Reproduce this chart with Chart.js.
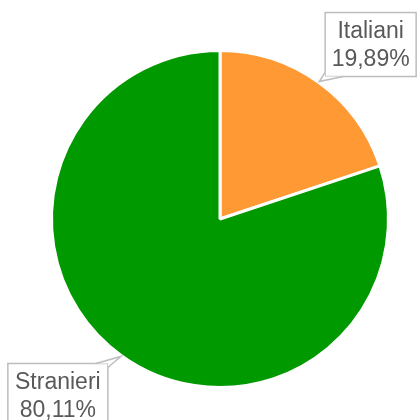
<!DOCTYPE html>
<html lang="it">
<head>
    <meta charset="UTF-8">
    <title>Italiani e stranieri</title>
    <script src="https://cdn.jsdelivr.net/npm/chart.js"></script>
    <style>
        html, body { margin: 0; padding: 0; background: #fff; }
        #wrap { width: 420px; height: 420px; }
    </style>
</head>
<body>
<div id="wrap"><canvas id="torta"></canvas></div>
<script>
    const categorie = ['Italiani', 'Stranieri'];
    const percentuali = [19.89, 80.11];
    const colori = ['#ff9933', '#009900'];

    // where each callout box sits, relative to the tip on the slice edge
    const fumetti = [
        { dx: 6, dy: -69, w: 91, h: 64, corner: 'bl' },
        { dx: -113, dy: 7, w: 100, h: 66, corner: 'tr' }
    ];

    const fmt = v => v.toFixed(2).replace('.', ',') + '%';

    // draws the speech-bubble labels pointing at each slice
    const calloutPlugin = {
        id: 'callout',
        afterDraw(chart) {
            const ctx = chart.ctx;
            const meta = chart.getDatasetMeta(0);
            meta.data.forEach((arc, i) => {
                const p = arc.getProps(['x', 'y', 'startAngle', 'endAngle', 'outerRadius'], true);
                const mid = (p.startAngle + p.endAngle) / 2;
                const tx = p.x + Math.cos(mid) * (p.outerRadius + 1);
                const ty = p.y + Math.sin(mid) * (p.outerRadius + 1);
                const f = fumetti[i];
                const bx = tx + f.dx, by = ty + f.dy;

                ctx.save();
                ctx.fillStyle = '#fff';
                ctx.strokeStyle = '#bdbdbd';
                ctx.lineWidth = 1.5;
                ctx.fillRect(bx, by, f.w, f.h);
                ctx.strokeRect(bx, by, f.w, f.h);

                let cx, cy, ax, ay, bx2, by2;
                if (f.corner === 'bl') {
                    cx = bx; cy = by + f.h;
                    ax = cx + 18; ay = cy;
                    bx2 = cx; by2 = cy - 4;
                } else {
                    cx = bx + f.w; cy = by;
                    ax = cx - 12; ay = cy;
                    bx2 = cx; by2 = cy + 4;
                }
                ctx.beginPath();
                ctx.moveTo(ax, ay);
                ctx.lineTo(tx, ty);
                ctx.lineTo(bx2, by2);
                ctx.lineTo(cx, cy);
                ctx.closePath();
                ctx.fill();
                ctx.beginPath();
                ctx.moveTo(ax, ay);
                ctx.lineTo(tx, ty);
                ctx.lineTo(bx2, by2);
                ctx.stroke();

                ctx.fillStyle = '#595959';
                ctx.font = '23px "Liberation Sans", Arial, sans-serif';
                ctx.textAlign = 'center';
                ctx.textBaseline = 'middle';
                const mx = bx + f.w / 2;
                ctx.fillText(categorie[i], mx, by + 19);
                ctx.fillText(fmt(percentuali[i]), mx, by + 47);
                ctx.restore();
            });
        }
    };

    new Chart(document.getElementById('torta'), {
        type: 'pie',
        data: {
            labels: categorie,
            datasets: [{
                data: percentuali,
                backgroundColor: colori,
                borderColor: '#fff',
                borderWidth: 3
            }]
        },
        options: {
            responsive: true,
            maintainAspectRatio: false,
            animation: false,
            layout: { padding: { left: 50, right: 30, top: 49, bottom: 31 } },
            plugins: {
                legend: { display: false },
                tooltip: { enabled: false }
            }
        },
        plugins: [calloutPlugin]
    });
</script>
</body>
</html>
